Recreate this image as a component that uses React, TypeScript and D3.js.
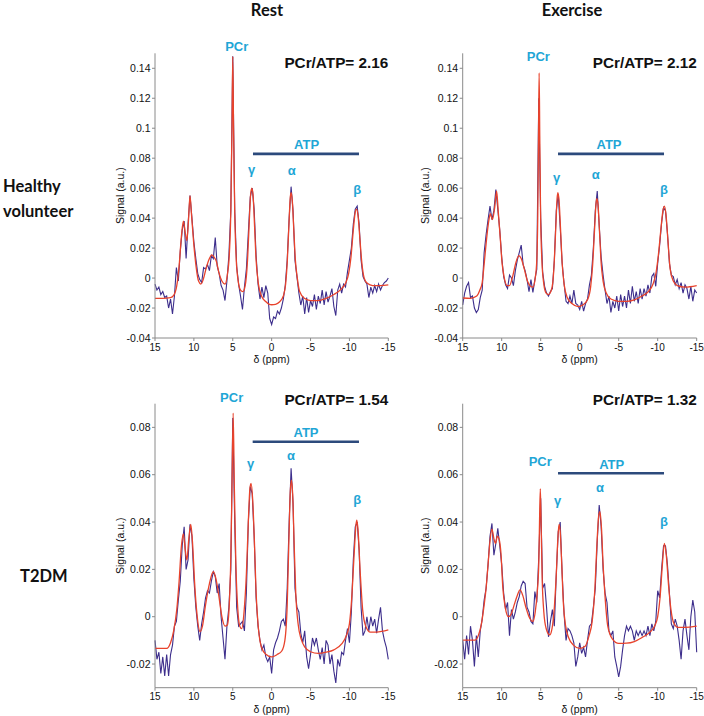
import React from 'react';
import * as d3 from 'd3';

// spectra are sampled every 0.25 ppm from +15 down to -15
const ppmStart = 15;
const ppmStep = 0.25;

const xTicks = [15, 10, 5, 0, -5, -10, -15];
const xTickLabels = ['15', '10', '5', '0', '-5', '-10', '-15'];

const topYTicks = [-0.04, -0.02, 0, 0.02, 0.04, 0.06, 0.08, 0.1, 0.12, 0.14];
const topYTickLabels = ['-0.04', '-0.02', '0', '0.02', '0.04', '0.06', '0.08', '0.1', '0.12', '0.14'];
const bottomYTicks = [-0.02, 0, 0.02, 0.04, 0.06, 0.08];
const bottomYTickLabels = ['-0.02', '0', '0.02', '0.04', '0.06', '0.08'];

const columnTitles = ['Rest', 'Exercise'];
const rowTitles = [['Healthy', 'volunteer'], ['T2DM']];
const ratioLabels = ['PCr/ATP= 2.16', 'PCr/ATP= 2.12', 'PCr/ATP= 1.54', 'PCr/ATP= 1.32'];

// measured signal (a.u.), healthy volunteer at rest
const healthyRestSignal = [
  /* 15 */ -0.004, -0.008, -0.006, -0.011, -0.009, -0.013, -0.012, -0.020,
  /* 13 */ -0.014, -0.024, -0.012, 0.007, -0.002, 0.018, 0.032, 0.038,
  /* 11 */ 0.013, 0.036, 0.055, 0.040, 0.024, 0.013, 0.003, -0.001,
  /* 9 */ -0.003, 0.007, 0.006, 0.009, 0.005, 0.015, 0.013, 0.027,
  /* 7 */ 0.008, 0.003, -0.005, -0.008, -0.015, -0.002, 0.015, 0.045,
  /* 5 */ 0.148, 0.045, 0.008, -0.004, -0.012, -0.021, -0.006, 0.006,
  /* 3 */ 0.030, 0.054, 0.060, 0.046, 0.015, -0.004, -0.014, -0.006,
  /* 1 */ -0.013, -0.005, -0.010, -0.027, -0.031, -0.026, -0.027, -0.022,
  /* -1 */ -0.024, -0.020, -0.014, -0.005, 0.012, 0.040, 0.061, 0.045,
  /* -3 */ 0.012, 0.001, -0.010, -0.018, -0.012, -0.024, -0.013, -0.023,
  /* -5 */ -0.015, -0.019, -0.011, -0.021, -0.012, -0.017, -0.008, -0.018,
  /* -7 */ -0.009, -0.016, -0.012, -0.007, -0.019, -0.025, -0.008, -0.004,
  /* -9 */ -0.010, -0.004, -0.006, 0.004, 0.012, 0.020, 0.036, 0.046,
  /* -11 */ 0.048, 0.036, 0.012, 0.001, -0.002, -0.004, -0.013, -0.006,
  /* -13 */ -0.010, -0.005, -0.009, -0.004, -0.008, -0.005, -0.003, -0.002,
  /* -15 */ 0.0,
];

// fitted spectrum, [ppm, signal]
const healthyRestFit: [number, number][] = [
  [15, -0.0135], [14, -0.0135], [13, -0.013], [12.6, -0.0115], [12.2, -0.005], [11.9, 0.008],
  [11.6, 0.028], [11.35, 0.038], [11.1, 0.03], [10.9, 0.025], [10.7, 0.038], [10.5, 0.055],
  [10.3, 0.042], [10.0, 0.022], [9.7, 0.007], [9.4, -0.002], [9.1, -0.004], [8.8, -0.001],
  [8.4, 0.007], [8.0, 0.013], [7.7, 0.0155], [7.4, 0.014], [7.1, 0.011], [6.8, 0.004],
  [6.4, -0.002], [6.0, -0.004], [5.7, 0.002], [5.45, 0.015], [5.25, 0.045], [5.1, 0.1],
  [5.0, 0.148], [4.9, 0.1], [4.75, 0.045], [4.55, 0.012], [4.3, -0.002], [4.0, -0.008],
  [3.7, -0.009], [3.4, -0.005], [3.1, 0.012], [2.9, 0.035], [2.7, 0.056], [2.55, 0.06],
  [2.4, 0.056], [2.2, 0.035], [2.0, 0.012], [1.7, -0.004], [1.3, -0.012], [0.8, -0.0155],
  [0.3, -0.0175], [0, -0.0178], [-0.5, -0.0175], [-1.0, -0.016], [-1.5, -0.012], [-1.8, -0.004],
  [-2.0, 0.01], [-2.2, 0.033], [-2.4, 0.054], [-2.5, 0.057], [-2.65, 0.052], [-2.85, 0.032],
  [-3.05, 0.012], [-3.3, 0.0], [-3.6, -0.009], [-4.2, -0.0135], [-5, -0.015], [-6, -0.015],
  [-7, -0.0135], [-8, -0.011], [-9, -0.007], [-9.5, -0.0035], [-9.9, 0.003], [-10.2, 0.014],
  [-10.5, 0.032], [-10.75, 0.044], [-10.9, 0.046], [-11.1, 0.042], [-11.35, 0.026], [-11.6, 0.01],
  [-11.9, 0.0], [-12.3, -0.0035], [-13, -0.005], [-14, -0.005], [-15, -0.0045],
];

const healthyExerciseSignal = [
  /* 15 */ -0.018, -0.010, -0.0055, -0.003, -0.013, -0.012, -0.020, -0.023,
  /* 13 */ -0.021, -0.013, -0.008, 0.017, 0.029, 0.039, 0.048, 0.039,
  /* 11 */ 0.045, 0.059, 0.046, 0.032, 0.014, 0.001, -0.0045, -0.007,
  /* 9 */ 0.002, 0.0, -0.005, 0.005, 0.012, 0.017, 0.022, 0.009,
  /* 7 */ 0.005, -0.001, -0.009, -0.001, -0.0095, -0.001, 0.006, 0.120,
  /* 5 */ 0.040, 0.004, -0.0055, -0.010, -0.012, -0.009, -0.007, 0.012,
  /* 3 */ 0.045, 0.056, 0.034, 0.010, -0.004, -0.0155, -0.017, -0.012,
  /* 1 */ -0.017, -0.008, -0.017, -0.018, -0.021, -0.0155, -0.022, -0.017,
  /* -1 */ -0.014, -0.0045, 0.002, 0.020, 0.045, 0.058, 0.035, 0.014,
  /* -3 */ 0.002, -0.008, -0.017, -0.012, -0.023, -0.0155, -0.020, -0.012,
  /* -5 */ -0.022, -0.011, -0.019, -0.012, -0.020, -0.008, -0.017, -0.0055,
  /* -7 */ -0.0155, -0.009, -0.017, -0.007, -0.014, -0.007, -0.012, -0.0045,
  /* -9 */ -0.010, 0.001, 0.003, -0.0055, 0.010, 0.022, 0.037, 0.047,
  /* -11 */ 0.045, 0.030, 0.010, 0.002, 0.001, -0.0045, -0.001, -0.007,
  /* -13 */ -0.003, -0.010, -0.0045, -0.007, -0.014, -0.0055, -0.0155, -0.008,
  /* -15 */ -0.010,
];

const healthyExerciseFit: [number, number][] = [
  [15, -0.0133], [14, -0.0135], [13.2, -0.012], [12.8, -0.008], [12.5, -0.003], [12.2, 0.012],
  [11.9, 0.028], [11.6, 0.04], [11.45, 0.043], [11.2, 0.039], [10.9, 0.047], [10.65, 0.058],
  [10.45, 0.045], [10.2, 0.028], [9.95, 0.01], [9.7, 0.001], [9.3, -0.005], [9.0, -0.005],
  [8.6, 0.001], [8.2, 0.01], [7.8, 0.015], [7.5, 0.013], [7.1, 0.006], [6.7, -0.002],
  [6.3, -0.0055], [6.0, -0.006], [5.7, 0.0], [5.5, 0.012], [5.38, 0.04], [5.28, 0.095],
  [5.2, 0.137], [5.12, 0.095], [5.02, 0.045], [4.85, 0.012], [4.6, -0.004], [4.3, -0.01],
  [4.0, -0.011], [3.7, -0.009], [3.45, -0.003], [3.25, 0.012], [3.05, 0.036], [2.9, 0.053],
  [2.8, 0.057], [2.65, 0.052], [2.45, 0.032], [2.25, 0.01], [2.0, -0.004], [1.6, -0.013],
  [1.0, -0.017], [0.2, -0.019], [-0.4, -0.018], [-1.0, -0.0145], [-1.4, -0.006], [-1.65, 0.008],
  [-1.9, 0.032], [-2.1, 0.05], [-2.2, 0.053], [-2.35, 0.049], [-2.55, 0.03], [-2.75, 0.01],
  [-3.0, -0.002], [-3.4, -0.01], [-4.0, -0.014], [-5.0, -0.0155], [-6.0, -0.0155], [-7.0, -0.0145],
  [-8.0, -0.012], [-8.8, -0.009], [-9.4, -0.004], [-9.8, 0.004], [-10.1, 0.016], [-10.4, 0.032],
  [-10.7, 0.046], [-10.85, 0.048], [-11.05, 0.043], [-11.3, 0.026], [-11.6, 0.006], [-12.0, -0.002],
  [-12.5, -0.005], [-13.5, -0.006], [-15, -0.005],
];

const t2dmRestSignal = [
  /* 15 */ -0.010, -0.018, -0.015, -0.024, -0.017, -0.025, -0.016, -0.025,
  /* 13 */ -0.016, -0.012, -0.004, -0.002, 0.007, 0.015, 0.030, 0.038,
  /* 11 */ 0.020, 0.024, 0.039, 0.034, 0.016, 0.004, -0.004, -0.010,
  /* 9 */ -0.003, 0.002, 0.008, 0.011, 0.010, 0.015, 0.019, 0.017,
  /* 7 */ 0.010, 0.014, 0.0, -0.009, -0.018, -0.004, 0.004, 0.020,
  /* 5 */ 0.084, 0.040, 0.004, -0.004, -0.003, -0.002, -0.006, 0.010,
  /* 3 */ 0.040, 0.055, 0.052, 0.034, 0.008, -0.004, -0.010, -0.014,
  /* 1 */ -0.012, -0.017, -0.019, -0.017, -0.024, -0.014, -0.011, -0.009,
  /* -1 */ -0.006, -0.002, -0.001, -0.004, 0.012, 0.040, 0.0627, 0.048,
  /* -3 */ 0.012, 0.004, 0.002, -0.007, -0.011, -0.006, -0.017, -0.022,
  /* -5 */ -0.016, -0.009, -0.012, -0.009, -0.014, -0.018, -0.013, -0.020,
  /* -7 */ -0.010, -0.012, -0.020, -0.016, -0.023, -0.028, -0.018, -0.021,
  /* -9 */ -0.015, -0.016, -0.010, -0.005, -0.011, 0.002, 0.024, 0.038,
  /* -11 */ 0.040, 0.028, 0.004, -0.008, -0.006, 0.0, -0.006, 0.0,
  /* -13 */ -0.004, -0.001, -0.007, -0.001, 0.004, -0.006, -0.010, -0.013,
  /* -15 */ -0.018,
];

const t2dmRestFit: [number, number][] = [
  [15, -0.0134], [13.5, -0.0134], [13.0, -0.011], [12.6, -0.006], [12.2, 0.003], [11.9, 0.015],
  [11.6, 0.03], [11.35, 0.035], [11.1, 0.028], [10.9, 0.024], [10.65, 0.033], [10.4, 0.039],
  [10.15, 0.03], [9.9, 0.014], [9.6, 0.001], [9.2, -0.0063], [8.9, -0.004], [8.5, 0.005],
  [8.0, 0.014], [7.5, 0.019], [7.1, 0.015], [6.8, 0.009], [6.4, 0.0], [6.0, -0.004],
  [5.7, -0.0035], [5.45, 0.005], [5.25, 0.025], [5.1, 0.055], [4.95, 0.086], [4.8, 0.055],
  [4.6, 0.022], [4.35, 0.003], [4.1, -0.004], [3.85, -0.005], [3.55, 0.002], [3.25, 0.018],
  [3.0, 0.04], [2.8, 0.054], [2.65, 0.0563], [2.45, 0.05], [2.2, 0.03], [2.0, 0.01],
  [1.7, -0.005], [1.3, -0.013], [0.7, -0.016], [0.0, -0.017], [-0.7, -0.016], [-1.3, -0.0145],
  [-1.7, -0.01], [-2.0, 0.005], [-2.2, 0.03], [-2.4, 0.053], [-2.55, 0.0577], [-2.7, 0.052],
  [-2.9, 0.03], [-3.1, 0.01], [-3.4, -0.003], [-3.8, -0.0095], [-4.3, -0.013], [-5.0, -0.0148],
  [-6.0, -0.0155], [-7.0, -0.015], [-8.0, -0.014], [-9.0, -0.0115], [-9.6, -0.008], [-10.0, -0.003],
  [-10.3, 0.008], [-10.6, 0.026], [-10.85, 0.039], [-10.95, 0.0408], [-11.1, 0.037], [-11.4, 0.018],
  [-11.7, 0.003], [-12.1, -0.004], [-12.7, -0.0065], [-13.5, -0.0065], [-15, -0.0056],
];

const t2dmExerciseSignal = [
  /* 15 */ -0.010, -0.018, -0.008, -0.016, -0.004, -0.010, -0.021, -0.008,
  /* 13 */ -0.017, -0.006, -0.001, 0.007, 0.012, 0.022, 0.034, 0.0394,
  /* 11 */ 0.026, 0.031, 0.0373, 0.030, 0.022, 0.010, 0.003, 0.006,
  /* 9 */ -0.008, 0.003, -0.001, 0.002, 0.006, 0.0085, 0.013, 0.015,
  /* 7 */ 0.014, 0.004, 0.002, -0.002, -0.003, 0.0106, 0.006, 0.025,
  /* 5 */ 0.050, 0.012, 0.014, 0.004, -0.0085, -0.002, 0.003, -0.004,
  /* 3 */ 0.018, 0.036, 0.040, 0.018, 0.001, -0.010, -0.005, -0.006,
  /* 1 */ -0.008, -0.011, -0.021, -0.017, -0.011, -0.0155, -0.013, -0.017,
  /* -1 */ -0.010, -0.004, -0.003, 0.004, 0.012, 0.032, 0.0472, 0.038,
  /* -3 */ 0.020, 0.010, 0.006, -0.006, -0.008, -0.006, -0.017, -0.021,
  /* -5 */ -0.0254, -0.021, -0.014, -0.008, -0.004, -0.006, -0.004, -0.006,
  /* -7 */ -0.010, -0.006, -0.008, -0.006, -0.008, -0.006, -0.008, -0.004,
  /* -9 */ -0.008, -0.003, -0.006, -0.002, 0.011, 0.008, 0.020, 0.030,
  /* -11 */ 0.030, 0.022, 0.010, -0.003, -0.005, -0.001, -0.004, -0.010,
  /* -13 */ -0.018, -0.006, -0.001, -0.008, -0.014, 0.0, 0.007, 0.002,
  /* -15 */ -0.015,
];

const t2dmExerciseFit: [number, number][] = [
  [15, -0.0099], [13.4, -0.0099], [13.0, -0.008], [12.6, -0.003], [12.25, 0.005], [12.0, 0.012],
  [11.75, 0.022], [11.5, 0.032], [11.25, 0.037], [11.0, 0.033], [10.8, 0.031], [10.55, 0.034],
  [10.35, 0.033], [10.1, 0.027], [9.85, 0.012], [9.55, 0.004], [9.15, 0.0], [8.8, 0.001],
  [8.4, 0.005], [8.0, 0.009], [7.65, 0.0113], [7.3, 0.009], [6.9, 0.004], [6.5, 0.0],
  [6.0, -0.002], [5.7, 0.002], [5.45, 0.01], [5.25, 0.022], [5.15, 0.04], [5.05, 0.054],
  [4.95, 0.04], [4.8, 0.015], [4.6, 0.002], [4.3, -0.005], [3.85, -0.0077], [3.55, -0.005],
  [3.25, 0.004], [3.0, 0.018], [2.8, 0.033], [2.65, 0.039], [2.5, 0.036], [2.3, 0.022],
  [2.1, 0.006], [1.8, -0.004], [1.4, -0.009], [0.8, -0.012], [0.0, -0.0134], [-0.7, -0.0125],
  [-1.2, -0.008], [-1.6, -0.002], [-1.95, 0.012], [-2.2, 0.03], [-2.45, 0.043], [-2.6, 0.0444],
  [-2.8, 0.037], [-3.0, 0.022], [-3.25, 0.0085], [-3.6, -0.004], [-4.2, -0.0095], [-5.0, -0.0113],
  [-6.0, -0.0112], [-7.0, -0.0105], [-8.0, -0.0088], [-9.0, -0.0065], [-9.6, -0.004], [-10.0, 0.0],
  [-10.3, 0.008], [-10.6, 0.022], [-10.85, 0.031], [-11.1, 0.026], [-11.4, 0.013], [-11.7, 0.003],
  [-12.1, -0.003], [-12.6, -0.0045], [-13.5, -0.0045], [-15, -0.004],
];

const signalColor = '#3d2e8c';
const fitColor = '#e8432c';
const peakColor = '#1fa6d6';
const atpLineColor = '#2c4a7c';
const sans = '"Liberation Sans", Arial, sans-serif';
const titleFont = 'Lato, "Open Sans", sans-serif';

interface PanelSpec {
  signal: number[];
  fit: [number, number][];
  left: number;
  right: number;
  top: number;
  bottom: number;
  yDomain: [number, number];
  yTicks: number[];
  yTickLabels: string[];
  ratio: string;
  ratioY: number;
  // label anchors in data units [ppm, signal]
  pcr: [number, number];
  atp: [number, number];
  atpBar: [number, number, number];
  gamma: [number, number];
  alpha: [number, number];
  beta: [number, number];
  yLabelX: number;
}

const panels: PanelSpec[] = [
  {
    signal: healthyRestSignal, fit: healthyRestFit,
    left: 155, right: 388.3, top: 53.3, bottom: 338,
    yDomain: [-0.04, 0.15], yTicks: topYTicks, yTickLabels: topYTickLabels,
    ratio: ratioLabels[0], ratioY: 0.14,
    pcr: [4.49, 0.1515], atp: [-4.5, 0.0862], atpBar: [2.4, -11.23, 0.0829],
    gamma: [2.57, 0.0695], alpha: [-2.58, 0.0689], beta: [-11.0, 0.0562],
    yLabelX: 124,
  },
  {
    signal: healthyExerciseSignal, fit: healthyExerciseFit,
    left: 462.7, right: 696.7, top: 53.3, bottom: 338,
    yDomain: [-0.04, 0.15], yTicks: topYTicks, yTickLabels: topYTickLabels,
    ratio: ratioLabels[1], ratioY: 0.14,
    pcr: [5.31, 0.1449], atp: [-3.76, 0.0862], atpBar: [2.78, -10.81, 0.0829],
    gamma: [2.95, 0.0642], alpha: [-2.05, 0.0662], beta: [-10.81, 0.0562],
    yLabelX: 429,
  },
  {
    signal: t2dmRestSignal, fit: t2dmRestFit,
    left: 155, right: 388.3, top: 403.7, bottom: 687.7,
    yDomain: [-0.03, 0.09], yTicks: bottomYTicks, yTickLabels: bottomYTickLabels,
    ratio: ratioLabels[2], ratioY: 0.0894,
    pcr: [5.14, 0.0909], atp: [-4.42, 0.0761], atpBar: [2.44, -11.23, 0.0739],
    gamma: [2.69, 0.0628], alpha: [-2.49, 0.0662], beta: [-11.0, 0.0476],
    yLabelX: 124,
  },
  {
    signal: t2dmExerciseSignal, fit: t2dmExerciseFit,
    left: 462.7, right: 696.7, top: 403.7, bottom: 687.7,
    yDomain: [-0.03, 0.09], yTicks: bottomYTicks, yTickLabels: bottomYTickLabels,
    ratio: ratioLabels[3], ratioY: 0.0894,
    pcr: [5.06, 0.0635], atp: [-4.1, 0.0626], atpBar: [2.78, -10.81, 0.0606],
    gamma: [2.82, 0.0472], alpha: [-2.6, 0.0527], beta: [-10.81, 0.0383],
    yLabelX: 429,
  },
];

function Panel({ p }: { p: PanelSpec }) {
  const x = d3.scaleLinear().domain([15, -15]).range([p.left, p.right]);
  const y = d3.scaleLinear().domain(p.yDomain).range([p.bottom, p.top]);

  const signalLine = d3
    .line<number>()
    .x((d, i) => x(ppmStart - i * ppmStep))
    .y((d) => y(d));

  const fitLine = d3
    .line<[number, number]>()
    .x((d) => x(d[0]))
    .y((d) => y(d[1]))
    .curve(d3.curveMonotoneX);

  const peakText = (pos: [number, number], label: string) => (
    <text
      x={x(pos[0])}
      y={y(pos[1])}
      textAnchor="middle"
      fontFamily={sans}
      fontWeight="bold"
      fontSize={13}
      fill={peakColor}
    >
      {label}
    </text>
  );

  const midY = (p.top + p.bottom) / 2;

  return (
    <g>
      <path d={signalLine(p.signal) || ''} fill="none" stroke={signalColor} strokeWidth={1.1} />
      <path d={fitLine(p.fit) || ''} fill="none" stroke={fitColor} strokeWidth={1.3} />

      {/* axes */}
      <line x1={p.left} x2={p.left} y1={p.top} y2={p.bottom} stroke="#8a8a8a" strokeWidth={1} />
      <line x1={p.left} x2={p.right} y1={p.bottom} y2={p.bottom} stroke="#8a8a8a" strokeWidth={1} />
      {p.yTicks.map((t, i) => (
        <g key={'y' + i}>
          <line x1={p.left - 3} x2={p.left} y1={y(t)} y2={y(t)} stroke="#8a8a8a" />
          <text
            x={p.left - 4.5}
            y={y(t)}
            dy="0.35em"
            textAnchor="end"
            fontFamily={sans}
            fontSize={10.5}
            fill="#111"
          >
            {p.yTickLabels[i]}
          </text>
        </g>
      ))}
      {xTicks.map((t, i) => (
        <g key={'x' + i}>
          <line x1={x(t)} x2={x(t)} y1={p.bottom} y2={p.bottom + 3} stroke="#8a8a8a" />
          <text
            x={x(t)}
            y={p.bottom + 12.5}
            textAnchor="middle"
            fontFamily={sans}
            fontSize={10}
            fill="#111"
          >
            {xTickLabels[i]}
          </text>
        </g>
      ))}
      <text
        x={(p.left + p.right) / 2}
        y={p.bottom + 25}
        textAnchor="middle"
        fontFamily={sans}
        fontSize={10.5}
        fill="#111"
      >
        δ (ppm)
      </text>
      <text
        transform={`translate(${p.yLabelX},${midY}) rotate(-90)`}
        textAnchor="middle"
        fontFamily={sans}
        fontSize={10.5}
        fill="#111"
      >
        Signal (a.u.)
      </text>

      {/* annotations */}
      <text
        x={x(-15)}
        y={y(p.ratioY)}
        textAnchor="end"
        fontFamily={sans}
        fontWeight="bold"
        fontSize={15.3}
        fill="#111"
      >
        {p.ratio}
      </text>
      <line
        x1={x(p.atpBar[0])}
        x2={x(p.atpBar[1])}
        y1={y(p.atpBar[2])}
        y2={y(p.atpBar[2])}
        stroke={atpLineColor}
        strokeWidth={2.6}
      />
      {peakText(p.pcr, 'PCr')}
      {peakText(p.atp, 'ATP')}
      {peakText(p.gamma, 'γ')}
      {peakText(p.alpha, 'α')}
      {peakText(p.beta, 'β')}
    </g>
  );
}

export default function App() {
  return (
    <svg
      width={704}
      height={716}
      style={{ position: 'absolute', left: 0, top: 0, background: '#fff' }}
    >
      <rect width={704} height={716} fill="#fff" />
      {columnTitles.map((t, i) => (
        <text
          key={t}
          x={i === 0 ? 267 : 572}
          y={16}
          textAnchor="middle"
          fontFamily={titleFont}
          fontWeight="bold"
          fontSize={16.5}
          fill="#111"
        >
          {t}
        </text>
      ))}
      <text fontFamily={titleFont} fontWeight="bold" fontSize={16.5} fill="#111">
        <tspan x={3} y={192}>{rowTitles[0][0]}</tspan>
        <tspan x={3} y={217}>{rowTitles[0][1]}</tspan>
      </text>
      <text x={20} y={582} fontFamily={titleFont} fontWeight="bold" fontSize={16.5} fill="#111">
        {rowTitles[1][0]}
      </text>
      {panels.map((p, i) => (
        <Panel key={i} p={p} />
      ))}
    </svg>
  );
}
